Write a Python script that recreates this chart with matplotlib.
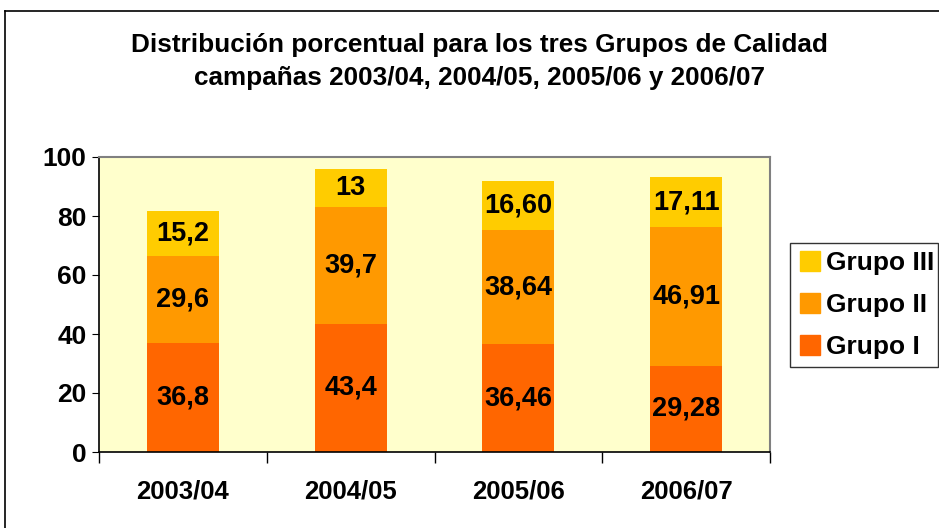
import matplotlib.pyplot as plt
import numpy as np
from matplotlib.lines import Line2D

plt.rcParams['font.family'] = ['Liberation Sans', 'DejaVu Sans']
plt.rcParams['font.weight'] = 'bold'

campanas = ["2003/04", "2004/05", "2005/06", "2006/07"]
grupo_1 = [36.8, 43.4, 36.46, 29.28]
grupo_2 = [29.6, 39.7, 38.64, 46.91]
grupo_3 = [15.2, 13, 16.60, 17.11]
etiq_1 = ["36,8", "43,4", "36,46", "29,28"]
etiq_2 = ["29,6", "39,7", "38,64", "46,91"]
etiq_3 = ["15,2", "13", "16,60", "17,11"]

c1, c2, c3 = "#FF6600", "#FF9900", "#FFCC00"

fig = plt.figure(figsize=(9.39, 5.28), dpi=100)
ax = fig.add_axes([99/939, 1-452/528, (770-99)/939, (452-157)/528])
ax.set_facecolor("#FFFFCC")

x = np.arange(len(campanas))
w = 0.43
b1 = ax.bar(x, grupo_1, w, color=c1, label="Grupo I")
b2 = ax.bar(x, grupo_2, w, bottom=grupo_1, color=c2, label="Grupo II")
bot3 = np.array(grupo_1) + np.array(grupo_2)
b3 = ax.bar(x, grupo_3, w, bottom=bot3, color=c3, label="Grupo III")

for bars, labs in [(b1, etiq_1), (b2, etiq_2), (b3, etiq_3)]:
    ax.bar_label(bars, labels=labs, label_type="center", fontsize=19.5, fontweight="bold")

ax.set_xlim(-0.5, 3.5)
ax.set_ylim(0, 100)
ax.set_yticks([0, 20, 40, 60, 80, 100])
ax.set_xticks(x)
ax.set_xticklabels(campanas)
ax.set_xticks(np.arange(-0.5, 4, 1.0), minor=True)
ax.tick_params(axis="y", labelsize=19, length=5, direction="out", pad=4)
ax.tick_params(axis="x", which="major", labelsize=18.5, length=0, pad=20)
ax.tick_params(axis="x", which="minor", length=8, width=1.0)
for s in ["top", "right"]:
    ax.spines[s].set_color("#808080")
    ax.spines[s].set_linewidth(1.5)
for s in ["left", "bottom"]:
    ax.spines[s].set_color("#000000")
    ax.spines[s].set_linewidth(1.2)

fig.text(0.511, 1-45/528, "Distribución porcentual para los tres Grupos de Calidad",
         ha="center", va="center", fontsize=18.8, fontweight="bold")
fig.text(0.511, 1-78/528, "campañas 2003/04, 2004/05, 2005/06 y 2006/07",
         ha="center", va="center", fontsize=18.8, fontweight="bold")

handles = [Line2D([], [], marker="s", linestyle="", markersize=15, color=c, markeredgecolor=c)
           for c in (c3, c2, c1)]
leg = fig.legend(handles, ["Grupo III", "Grupo II", "Grupo I"],
                 loc="upper left", bbox_to_anchor=(790/939, 1-365/528, 148/939, 122/528),
                 mode="expand", frameon=True, fancybox=False, edgecolor="#000000",
                 prop={"weight": "bold", "size": 19},
                 handletextpad=0.15, handlelength=0.9, labelspacing=0.68,
                 borderpad=0.3, borderaxespad=0)
leg.get_frame().set_linewidth(1.0)

# chart border (top and left edges visible)
fig.add_artist(Line2D([5/939, 1], [1-11/528, 1-11/528], color="black", lw=1.2))
fig.add_artist(Line2D([5/939, 5/939], [0, 1-11/528], color="black", lw=1.2))

fig.savefig("out.png", dpi=100)
